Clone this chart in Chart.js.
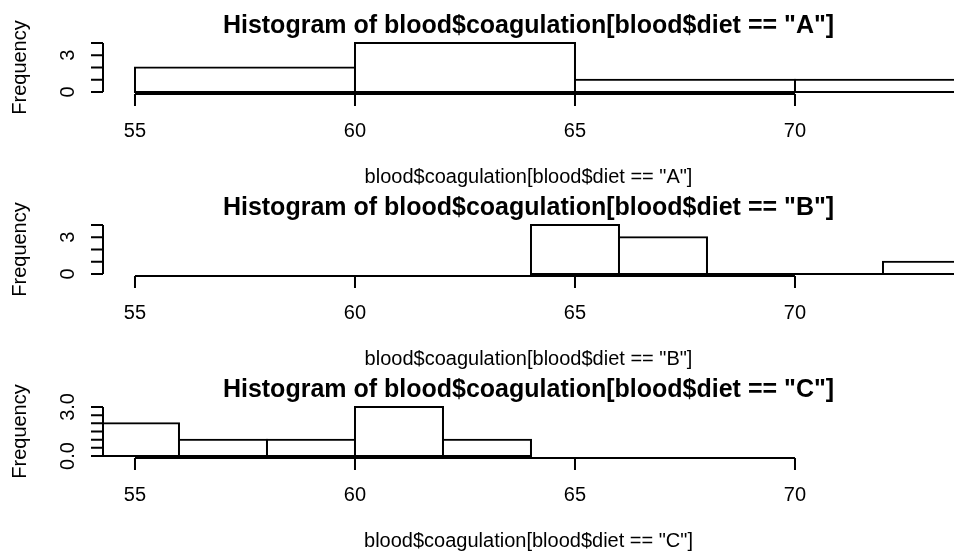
<!DOCTYPE html>
<html>
<head>
<meta charset="utf-8">
<script src="https://cdn.jsdelivr.net/npm/chart.js@4/dist/chart.umd.min.js"></script>
<style>
  html, body { margin: 0; padding: 0; background: #fff; }
  #wrap { position: relative; width: 954px; height: 554px; overflow: hidden; background: #fff; }
  #wrap canvas { position: absolute; left: 0; }
</style>
</head>
<body>
<div id="wrap">
  <canvas id="histA" width="954" height="190" style="top:0px"></canvas>
  <canvas id="histB" width="954" height="190" style="top:182px"></canvas>
  <canvas id="histC" width="954" height="190" style="top:364px"></canvas>
</div>
<script>
// Coagulation times, histogram bins per diet group
const diets = ['A', 'B', 'C'];

const breaksA = [55, 60, 65, 70, 75];
const countsA = [2, 4, 1, 1];

const breaksB = [64, 66, 68, 70, 72, 74];
const countsB = [4, 3, 0, 0, 1];

const breaksC = [54, 56, 58, 60, 62, 64];
const countsC = [2, 1, 1, 3, 1];

// Axis ticks and the labels printed on them
const xTicks = [55, 60, 65, 70];
const xLimits = [54.273, 73.614];

const yTicksAB = [0, 1, 2, 3, 4];
const yLabelsAB = ['0', '', '', '3', ''];
const yTicksC = [0, 0.5, 1, 1.5, 2, 2.5, 3];
const yLabelsC = ['0.0', '', '', '', '', '', '3.0'];

// ---- layout (canvas-local pixels) ----
const FONT = '"Liberation Sans", Arial, Helvetica, sans-serif';
const L = {
  plotTop: 41, plotBottom: 94, plotLeft: 103,
  tick: 12,
  titleY: 33, xTickLabelY: 137, xTitleY: 183,
  yTickLabelX: 74, yTitleX: 26,
  lw: 2
};

// Draws R-style axes, the shared bin baseline and the panel texts
const rAxes = {
  id: 'rAxes',
  afterDatasetsDraw(chart, args, opts) {
    const { ctx, chartArea: a, scales: { x, y } } = chart;
    ctx.save();
    ctx.strokeStyle = '#000';
    ctx.fillStyle = '#000';
    ctx.lineWidth = L.lw;
    ctx.lineCap = 'butt';

    // bottom edge of every bin, empty bins included
    ctx.save();
    ctx.beginPath();
    ctx.rect(a.left, 0, a.right - a.left, chart.height);
    ctx.clip();
    const y0 = y.getPixelForValue(0);
    ctx.beginPath();
    ctx.moveTo(x.getPixelForValue(opts.breaks[0]), y0);
    ctx.lineTo(x.getPixelForValue(opts.breaks[opts.breaks.length - 1]), y0);
    ctx.stroke();
    ctx.restore();

    // x axis: line between the outer ticks, ticks pointing down
    const xs = xTicks.map(v => x.getPixelForValue(v));
    ctx.beginPath();
    ctx.moveTo(xs[0], a.bottom);
    ctx.lineTo(xs[xs.length - 1], a.bottom);
    xs.forEach(px => { ctx.moveTo(px, a.bottom); ctx.lineTo(px, a.bottom + L.tick); });
    ctx.stroke();

    // y axis: line between the outer ticks, ticks pointing left
    const ys = opts.yTicks.map(v => y.getPixelForValue(v));
    ctx.beginPath();
    ctx.moveTo(a.left, ys[0]);
    ctx.lineTo(a.left, ys[ys.length - 1]);
    ys.forEach(py => { ctx.moveTo(a.left, py); ctx.lineTo(a.left - L.tick, py); });
    ctx.stroke();

    // tick labels
    ctx.font = '20px ' + FONT;
    ctx.textAlign = 'center';
    ctx.textBaseline = 'alphabetic';
    xTicks.forEach((v, i) => ctx.fillText(String(v), xs[i], L.xTickLabelY));
    opts.yLabels.forEach((lab, i) => {
      if (!lab) return;
      ctx.save();
      ctx.translate(L.yTickLabelX, ys[i]);
      ctx.rotate(-Math.PI / 2);
      ctx.fillText(lab, 0, 0);
      ctx.restore();
    });

    // axis titles
    const cx = (a.left + a.right) / 2;
    ctx.fillText('blood$coagulation[blood$diet == "' + opts.diet + '"]', cx, L.xTitleY);
    ctx.save();
    ctx.translate(L.yTitleX, (a.top + a.bottom) / 2);
    ctx.rotate(-Math.PI / 2);
    ctx.fillText('Frequency', 0, 0);
    ctx.restore();

    // main title
    ctx.font = 'bold 25px ' + FONT;
    ctx.fillText('Histogram of blood$coagulation[blood$diet == "' + opts.diet + '"]', cx, L.titleY);
    ctx.restore();
  }
};

function histPanel(id, diet, breaks, counts, yTicks, yLabels) {
  const bins = counts.map((c, i) => ({ x: (breaks[i] + breaks[i + 1]) / 2, y: c }));
  const yMax = yTicks[yTicks.length - 1];
  const pad = yMax * 0.04;
  const canvas = document.getElementById(id);
  return new Chart(canvas, {
    type: 'bar',
    data: {
      datasets: [{
        data: bins,
        backgroundColor: '#ffffff',
        borderColor: '#000000',
        borderWidth: L.lw,
        inflateAmount: L.lw / 2,
        borderSkipped: false,
        barPercentage: 1,
        categoryPercentage: 1,
        clip: 0
      }]
    },
    options: {
      responsive: false,
      animation: false,
      events: [],
      layout: {
        padding: { left: L.plotLeft, right: 0, top: L.plotTop, bottom: canvas.height - L.plotBottom }
      },
      plugins: {
        legend: { display: false },
        tooltip: { enabled: false },
        title: { display: false },
        rAxes: { diet, breaks, yTicks, yLabels }
      },
      scales: {
        x: {
          type: 'linear', display: false, offset: false,
          min: xLimits[0], max: xLimits[1],
          afterBuildTicks: s => { s.ticks = xTicks.map(v => ({ value: v })); }
        },
        y: {
          type: 'linear', display: false,
          min: -pad, max: yMax + pad,
          afterBuildTicks: s => { s.ticks = yTicks.map(v => ({ value: v })); }
        }
      }
    },
    plugins: [rAxes]
  });
}

histPanel('histA', diets[0], breaksA, countsA, yTicksAB, yLabelsAB);
histPanel('histB', diets[1], breaksB, countsB, yTicksAB, yLabelsAB);
histPanel('histC', diets[2], breaksC, countsC, yTicksC, yLabelsC);
</script>
</body>
</html>
